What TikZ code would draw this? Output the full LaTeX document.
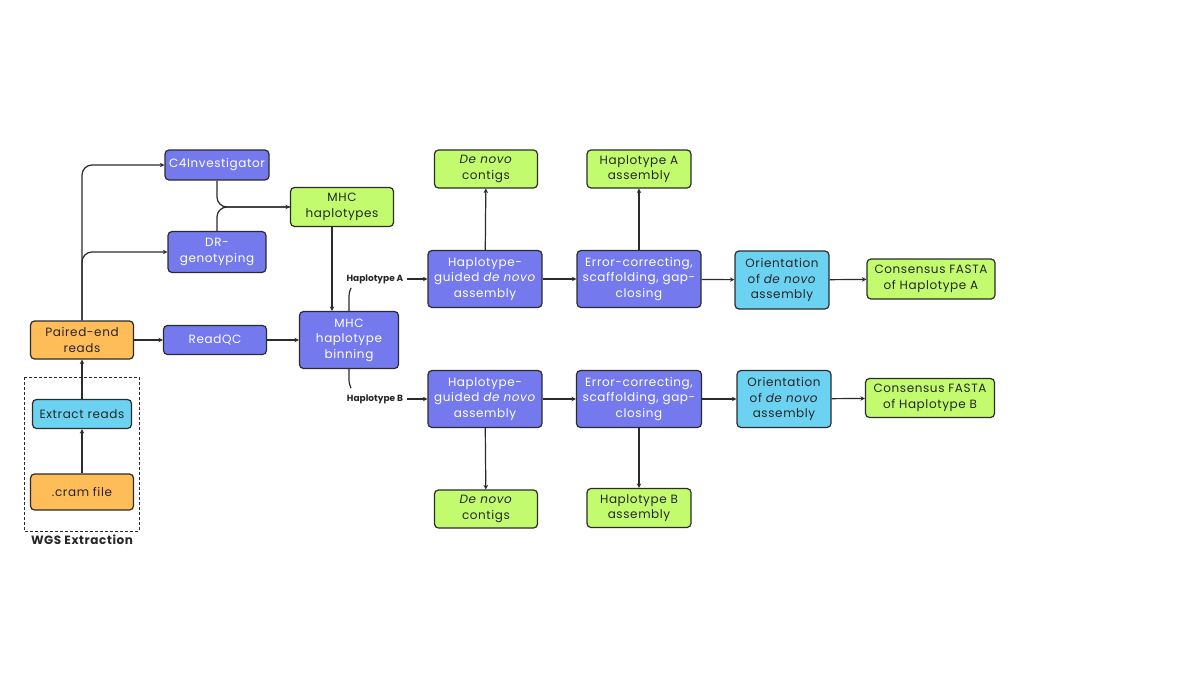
\documentclass[tikz,border=0pt]{standalone}
\usepackage{fontspec}
\setmainfont{Poppins}
\usepackage{tikz}
\usetikzlibrary{positioning}
\usetikzlibrary{arrows.meta}
\usepackage{xcolor}
\definecolor{boxpurple}{HTML}{7479EE}
\definecolor{boxgreen}{HTML}{C2FC6E}
\definecolor{boxorange}{HTML}{FFBD59}
\definecolor{boxblue}{HTML}{6CD2F2}
\definecolor{edgegray}{HTML}{2B2B2B}

\begin{document}
\begin{tikzpicture}[x=1pt, y=-1pt,
    box/.style={draw=edgegray, line width=1.2pt, rounded corners=4pt, inner sep=0pt,
                align=center, font=\fontsize{12}{15.5}\selectfont\addfontfeatures{LetterSpace=5}, text=black!85},
    purplebox/.style={box, fill=boxpurple, text=white},
    greenbox/.style={box, fill=boxgreen},
    orangebox/.style={box, fill=boxorange},
    bluebox/.style={box, fill=boxblue},
    hlabel/.style={font=\fontsize{9}{10}\selectfont\bfseries, text=black!85},
    arrow/.style={draw=edgegray, line width=1.2pt, -{Stealth[length=4.5pt, width=4.5pt]}},
    line/.style={draw=edgegray, line width=1.2pt}]
            \useasboundingbox (0,0) rectangle (1200,675);

            % WGS extraction
            \node[orangebox, minimum width=103pt, minimum height=36pt] (cram) at (82,492) {.cram file};
            \node[bluebox, minimum width=99pt, minimum height=29pt] (extract) at (82,414) {Extract reads};
            \node[orangebox, minimum width=103pt, minimum height=38pt] (paired) at (82,340) {Paired-end\\reads};
            \draw[line, dashed, dash pattern=on 3pt off 2pt, line width=0.8pt] (24,377) rectangle (139,531);
            \node[font=\fontsize{12}{14}\selectfont\bfseries\addfontfeatures{LetterSpace=5}, text=black!85] (wgs) at (82,540) {WGS Extraction};

            % Genotyping
            \node[purplebox, minimum width=104pt, minimum height=30pt] (c4) at (217,165) {C4Investigator};
            \node[purplebox, minimum width=98pt, minimum height=41pt] (dr) at (217,252) {DR-\\genotyping};
            \node[greenbox, minimum width=103pt, minimum height=39pt] (mhc) at (342,207) {MHC\\haplotypes};
            \node[purplebox, minimum width=103pt, minimum height=29pt] (readqc) at (215,340) {ReadQC};
            \node[purplebox, minimum width=99pt, minimum height=57pt] (binning) at (349,340) {MHC\\haplotype\\binning};

            % Haplotype A
            \node[hlabel] (hapa) at (375,279) {Haplotype A};
            \node[purplebox, minimum width=114pt, minimum height=57pt] (guideda) at (485,279) {Haplotype-\\guided \textit{de novo}\\assembly};
            \node[purplebox, minimum width=124pt, minimum height=57pt] (errora) at (639,279) {Error-correcting,\\scaffolding, gap-\\closing};
            \node[bluebox, minimum width=94pt, minimum height=58pt] (orienta) at (782,280) {Orientation\\of \textit{de novo}\\assembly};
            \node[greenbox, minimum width=128pt, minimum height=40pt] (fastaa) at (931,279) {Consensus FASTA\\of Haplotype A};
            \node[greenbox, minimum width=103pt, minimum height=38pt] (contigsa) at (486,169) {\textit{De novo}\\contigs};
            \node[greenbox, minimum width=104pt, minimum height=38pt] (asma) at (639,169) {Haplotype A\\assembly};

            % Haplotype B
            \node[hlabel] (hapb) at (375,399) {Haplotype B};
            \node[purplebox, minimum width=114pt, minimum height=57pt] (guidedb) at (485,399) {Haplotype-\\guided \textit{de novo}\\assembly};
            \node[purplebox, minimum width=125pt, minimum height=57pt] (errorb) at (639,399) {Error-correcting,\\scaffolding, gap-\\closing};
            \node[bluebox, minimum width=94pt, minimum height=57pt] (orientb) at (784,399) {Orientation\\of \textit{de novo}\\assembly};
            \node[greenbox, minimum width=129pt, minimum height=39pt] (fastab) at (930,398) {Consensus FASTA\\of Haplotype B};
            \node[greenbox, minimum width=103pt, minimum height=38pt] (contigsb) at (486,509) {\textit{De novo}\\contigs};
            \node[greenbox, minimum width=104pt, minimum height=39pt] (asmb) at (639,508) {Haplotype B\\assembly};

            % Connectors
            \draw[arrow] (cram) -- (extract);
            \draw[arrow] (extract) -- (paired);
            \draw[arrow, rounded corners=10pt] (paired.north) |- (c4.west);
            \draw[arrow, rounded corners=10pt] (paired.north) |- (dr.west);
            \draw[arrow] (paired) -- (readqc);
            \draw[arrow] (readqc) -- (binning);
            \draw[arrow, rounded corners=10pt] (c4.south) |- (mhc.west);
            \draw[line, rounded corners=10pt] (dr.north) |- (mhc.west);
            \draw[arrow] ([xshift=-10pt]mhc.south) -- ([xshift=-10pt]mhc.south |- binning.north);
            \draw[line] (binning.north) -- ++(0,-14) .. controls +(0,-5) and +(-1,3) .. ++(2,-9);
            \draw[line] (binning.south) -- ++(0,10) .. controls +(0,5) and +(-1,-3) .. ++(2,9);

            \draw[arrow] (hapa) -- (guideda);
            \draw[arrow] (guideda) -- (errora);
            \draw[arrow] (errora) -- (orienta);
            \draw[arrow] (orienta) -- (fastaa);
            \draw[arrow] (guideda) -- (contigsa);
            \draw[arrow] (errora) -- (asma);

            \draw[arrow] (hapb) -- (guidedb);
            \draw[arrow] (guidedb) -- (errorb);
            \draw[arrow] (errorb) -- (orientb);
            \draw[arrow] (orientb) -- (fastab);
            \draw[arrow] (guidedb) -- (contigsb);
            \draw[arrow] (errorb) -- (asmb);
        \end{tikzpicture}
\end{document}
